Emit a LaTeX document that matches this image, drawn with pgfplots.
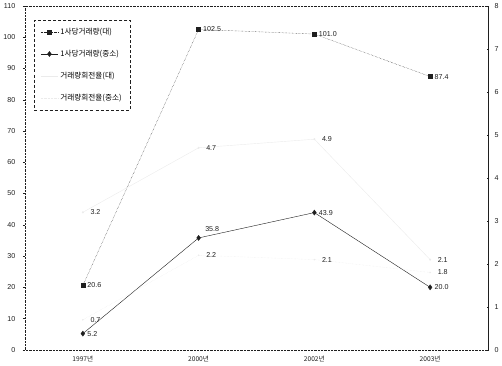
\documentclass[border=0pt]{standalone}
\usepackage{fontspec}
\setmainfont{Liberation Sans}
\newfontfamily\kr{Noto Sans CJK KR}
\usepackage{pgfplots}
\pgfplotsset{compat=1.18}
\definecolor{faint}{gray}{0.92}
\definecolor{ink}{gray}{0.12}
\begin{document}
\begin{tikzpicture}
\pgfplotsset{
  base/.style={scale only axis, width=455pt, height=338pt,
    xmin=-0.5, xmax=3.5,
    /pgf/number format/assume math mode=true,
    tick label style={font=\fontsize{7}{8}\selectfont, text=ink},
    major tick length=2pt, tick style={ink, thin},
    axis line style={ink, thin},
  }
}
\begin{axis}[base, ymin=0, ymax=110, ytick={0,10,...,110},
  xtick={0,1,2,3},
  xticklabels={{\kr 1997년},{\kr 2000년},{\kr 2002년},{\kr 2003년}},
  x tick label style={font=\kr\fontsize{6.5}{7}\selectfont, yshift=-1pt},
  y tick label style={xshift=-4pt},
  xtick style={draw=none},
  ytick pos=left, tick align=outside,
  axis line style={ink, thin, densely dotted},
  legend style={at={(0.02,0.96)}, anchor=north west, draw=ink, densely dashed,
    font=\kr\fontsize{7.5}{8.5}\selectfont, row sep=10pt, inner sep=6pt, fill=white},
  legend cell align=left,
  nodes near coords style={font=\fontsize{7}{8}\selectfont, text=ink},
]
\addplot[ink, densely dotted, mark=square*, mark size=2pt, mark options={solid, fill=ink},
  nodes near coords, point meta=explicit symbolic, every node near coord/.append style={anchor=west, xshift=1pt}]
  table[meta=l] {
x y l
0 20.6 20.6
1 102.5 102.5
2 101.0 101.0
3 87.4 87.4
};
\addlegendentry{1사당거래량(대)}
\addplot[ink, thin, mark=diamond*, mark size=2.5pt, mark options={fill=ink},
  nodes near coords, point meta=explicit symbolic, every node near coord/.append style={anchor=west, xshift=1pt}]
  table[meta=l] {
x y l
0 5.2 5.2
1 35.8 {}
2 43.9 43.9
3 20.0 20.0
};
\addlegendentry{1사당거래량(중소)}
\addplot[draw=none, forget plot, nodes near coords, point meta=explicit symbolic, every node near coord/.append style={anchor=south west, xshift=3pt, yshift=3pt}]
  table[meta=l] {
x y l
1 35.8 35.8
};
\addlegendimage{faint, thin}
\addlegendentry{거래량회전율(대)}
\addlegendimage{faint, thin, densely dotted}
\addlegendentry{거래량회전율(중소)}
\end{axis}
\begin{axis}[base, ymin=0, ymax=8, ytick={0,1,...,8},
  axis x line=none, axis y line*=right, tick align=center,
  y tick label style={xshift=2pt},
  nodes near coords style={font=\fontsize{7}{8}\selectfont, text=ink},
]
\addplot[faint, thin, mark=*, mark size=0.8pt,
  nodes near coords, point meta=explicit symbolic, every node near coord/.append style={anchor=west, xshift=4pt}]
  table[meta=l] {
x y l
0 3.2 3.2
1 4.7 4.7
2 4.9 4.9
3 2.1 2.1
};
\addplot[faint, thin, densely dotted, mark=*, mark size=0.8pt,
  nodes near coords, point meta=explicit symbolic, every node near coord/.append style={anchor=west, xshift=4pt}]
  table[meta=l] {
x y l
0 0.7 0.7
1 2.2 2.2
2 2.1 2.1
3 1.8 1.8
};
\end{axis}
\end{tikzpicture}
\end{document}
